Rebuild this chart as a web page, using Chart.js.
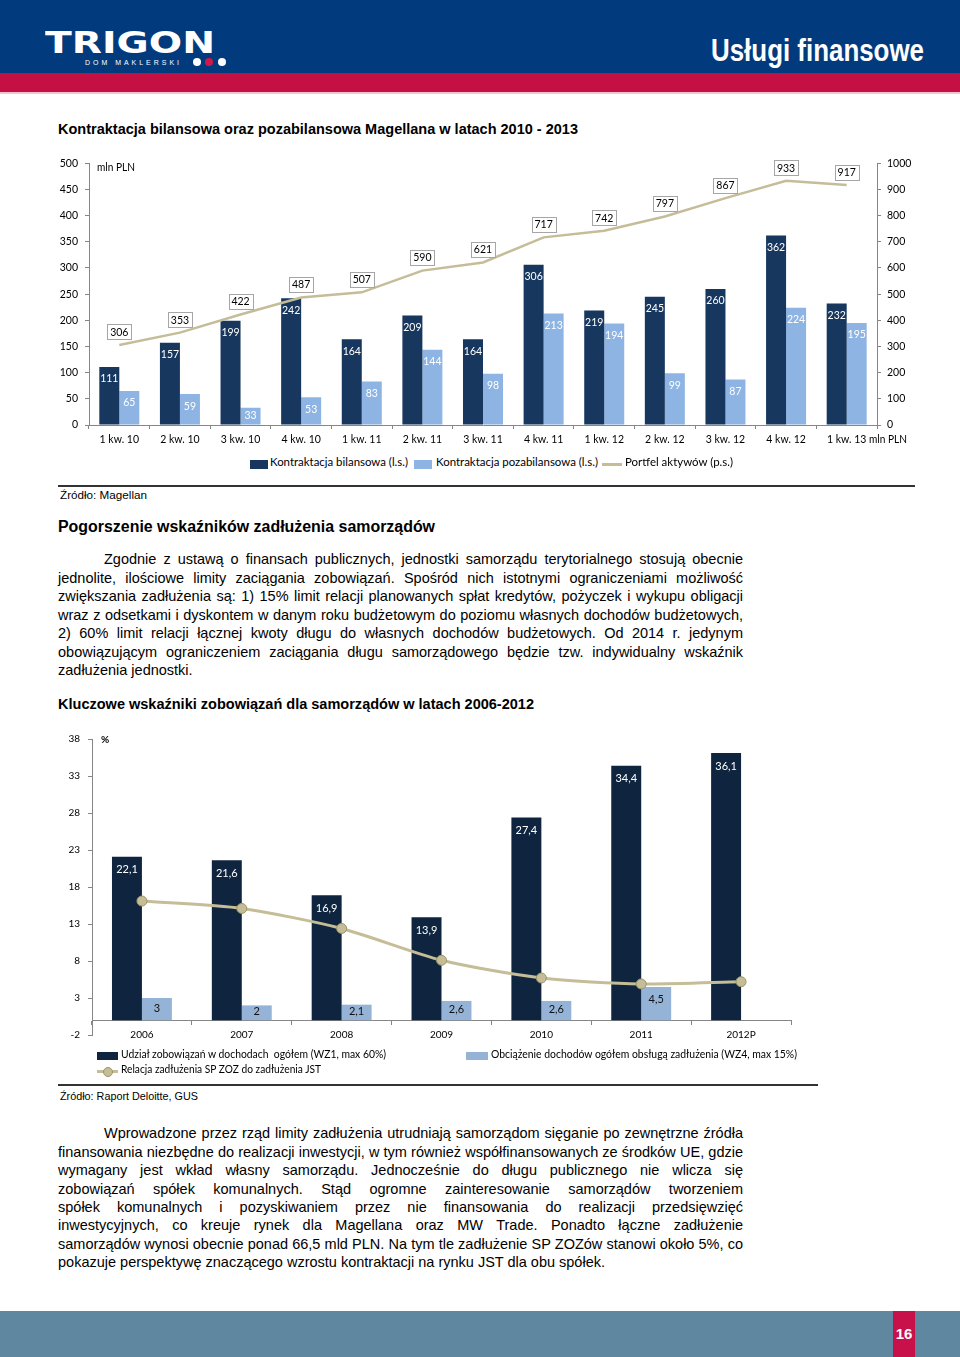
<!DOCTYPE html>
<html lang="pl">
<head>
<meta charset="utf-8">
<script src="https://cdn.jsdelivr.net/npm/chart.js@4.4.0/dist/chart.umd.min.js"></script>
<style>
    body { margin: 0; width: 960px; height: 1357px; position: relative; overflow: hidden; background: #fff;
           font-family: "Liberation Sans", Arial, sans-serif; color: #000; }
    .box { position: absolute; }
    .t { position: absolute; white-space: nowrap; line-height: 1; transform-origin: 0 0; }
    .b { font-weight: bold; }
    .lato { font-family: Lato, "Open Sans", sans-serif; }
    .jl { position: absolute; white-space: nowrap; font-size: 14.5px; line-height: 1; }
    canvas { position: absolute; }
</style>
</head>
<body>

<!-- header -->
<div class="box" style="left:0;top:0;width:960px;height:73px;background:#023b7d"></div>
<div class="box" style="left:0;top:73px;width:960px;height:19px;background:#c41042"></div>
<div class="box" style="left:0;top:92px;width:960px;height:2px;background:#f2c3d1"></div>
<span class="t b" data-w="170" style="left:45px;top:28px;font-size:30px;font-family:'DejaVu Sans';color:#fff">TRIGON</span>
<span class="t" data-w="97" style="left:85px;top:58.6px;font-size:7px;letter-spacing:3px;color:#fff">DOM MAKLERSKI</span>
<div class="box" style="left:193px;top:58px;width:8px;height:8px;border-radius:50%;background:#fff"></div>
<div class="box" style="left:205px;top:58px;width:8px;height:8px;border-radius:50%;background:#d3174a"></div>
<div class="box" style="left:218px;top:58px;width:8px;height:8px;border-radius:50%;background:#fff"></div>
<span class="t b" data-w="213" style="left:711px;top:34px;font-size:32px;color:#fff">Usługi finansowe</span>

<!-- chart 1 -->
<span class="t b" data-w="520" style="left:58px;top:122px;font-size:14px">Kontraktacja bilansowa oraz pozabilansowa Magellana w latach 2010 - 2013</span>
<canvas id="contractChart" width="880" height="300" style="left:50px;top:150px"></canvas>
<span class="t lato" data-w="38" style="left:97px;top:162.3px;font-size:10.5px">mln PLN</span>
<span class="t lato" data-w="38" style="left:869px;top:434.3px;font-size:10.5px">mln PLN</span>

<div class="box" style="left:250px;top:460px;width:18px;height:9px;background:#17375e"></div>
<span class="t lato" data-w="138" style="left:270px;top:457.3px;font-size:10.5px">Kontraktacja bilansowa (l.s.)</span>
<div class="box" style="left:414px;top:460px;width:18px;height:9px;background:#8db4e2"></div>
<span class="t lato" data-w="162" style="left:436px;top:457.3px;font-size:10.5px">Kontraktacja pozabilansowa (l.s.)</span>
<div class="box" style="left:602px;top:463px;width:20px;height:3px;background:#c4bd97"></div>
<span class="t lato" data-w="108" style="left:625px;top:457.3px;font-size:10.5px">Portfel aktywów (p.s.)</span>

<div class="box" style="left:58px;top:485px;width:857px;height:2px;background:#333"></div>
<span class="t" data-w="87" style="left:60px;top:490.3px;font-size:11.5px">Źródło: Magellan</span>

<!-- text 1 -->
<span class="t b" data-w="377" style="left:58px;top:519px;font-size:16px">Pogorszenie wskaźników zadłużenia samorządów</span>
<span class="jl" data-j="639" style="left:104px;top:552.3px">Zgodnie z ustawą o finansach publicznych, jednostki samorządu terytorialnego stosują obecnie</span>
<span class="jl" data-j="685" style="left:58px;top:570.8px">jednolite, ilościowe limity zaciągania zobowiązań. Spośród nich istotnymi ograniczeniami możliwość</span>
<span class="jl" data-j="685" style="left:58px;top:589.3px">zwiększania zadłużenia są: 1) 15% limit relacji planowanych spłat kredytów, pożyczek i wykupu obligacji</span>
<span class="jl" data-j="685" style="left:58px;top:607.8px">wraz z odsetkami i dyskontem w danym roku budżetowym do poziomu własnych dochodów budżetowych,</span>
<span class="jl" data-j="685" style="left:58px;top:626.3px">2) 60% limit relacji łącznej kwoty długu do własnych dochodów budżetowych. Od 2014 r. jedynym</span>
<span class="jl" data-j="685" style="left:58px;top:644.8px">obowiązującym ograniczeniem zaciągania długu samorządowego będzie tzw. indywidualny wskaźnik</span>
<span class="jl" style="left:58px;top:663.3px">zadłużenia jednostki.</span>

<!-- chart 2 -->
<span class="t b" data-w="476" style="left:58px;top:697px;font-size:14px">Kluczowe wskaźniki zobowiązań dla samorządów w latach 2006-2012</span>
<canvas id="debtChart" width="760" height="325" style="left:50px;top:725px"></canvas>
<span class="t lato b" style="left:101px;top:733.7px;font-size:10px">%</span>

<div class="box" style="left:97px;top:1052px;width:21px;height:8px;background:#0f243e"></div>
<span class="t lato" data-w="265" style="left:121px;top:1049.3px;font-size:10.5px">Udział zobowiązań w dochodach&nbsp; ogółem (WZ1, max 60%)</span>
<div class="box" style="left:466px;top:1052px;width:22px;height:8px;background:#95b3d7"></div>
<span class="t lato" data-w="306" style="left:491px;top:1049.3px;font-size:10.5px">Obciążenie dochodów ogółem obsługą zadłużenia (WZ4, max 15%)</span>
<div class="box" style="left:97px;top:1070px;width:21px;height:3px;background:#c4bd97"></div>
<div class="box" style="left:102.5px;top:1066.5px;width:8px;height:8px;border-radius:50%;background:#c4bd97;border:1px solid #9d9568"></div>
<span class="t lato" data-w="200" style="left:121px;top:1064.3px;font-size:10.5px">Relacja zadłużenia SP ZOZ do zadłużenia JST</span>

<div class="box" style="left:58px;top:1084px;width:760px;height:2px;background:#333"></div>
<span class="t" data-w="138" style="left:60px;top:1091.3px;font-size:11.5px">Źródło: Raport Deloitte, GUS</span>

<!-- text 2 -->
<span class="jl" data-j="639" style="left:104px;top:1126.3px">Wprowadzone przez rząd limity zadłużenia utrudniają samorządom sięganie po zewnętrzne źródła</span>
<span class="jl" data-j="685" style="left:58px;top:1144.7px">finansowania niezbędne do realizacji inwestycji, w tym również współfinansowanych ze środków UE, gdzie</span>
<span class="jl" data-j="685" style="left:58px;top:1163.2px">wymagany jest wkład własny samorządu. Jednocześnie do długu publicznego nie wlicza się</span>
<span class="jl" data-j="685" style="left:58px;top:1181.6px">zobowiązań spółek komunalnych. Stąd ogromne zainteresowanie samorządów tworzeniem</span>
<span class="jl" data-j="685" style="left:58px;top:1200px">spółek komunalnych i pozyskiwaniem przez nie finansowania do realizacji przedsięwzięć</span>
<span class="jl" data-j="685" style="left:58px;top:1218.4px">inwestycyjnych, co kreuje rynek dla Magellana oraz MW Trade. Ponadto łączne zadłużenie</span>
<span class="jl" data-j="685" style="left:58px;top:1236.9px">samorządów wynosi obecnie ponad 66,5 mld PLN. Na tym tle zadłużenie SP ZOZów stanowi około 5%, co</span>
<span class="jl" style="left:58px;top:1255.3px">pokazuje perspektywę znaczącego wzrostu kontraktacji na rynku JST dla obu spółek.</span>

<!-- footer -->
<div class="box" style="left:0;top:1311px;width:960px;height:46px;background:#5f87a0"></div>
<div class="box b" style="left:893px;top:1311px;width:22px;height:46px;background:#c8104a;color:#fff;font-size:15px;line-height:46px;text-align:center">16</div>

<script>
// Chart 1 data (mln PLN)
const quarters = ['1 kw. 10', '2 kw. 10', '3 kw. 10', '4 kw. 10', '1 kw. 11', '2 kw. 11', '3 kw. 11',
                  '4 kw. 11', '1 kw. 12', '2 kw. 12', '3 kw. 12', '4 kw. 12', '1 kw. 13'];
const bilansowa = [111, 157, 199, 242, 164, 209, 164, 306, 219, 245, 260, 362, 232];
const pozabilansowa = [65, 59, 33, 53, 83, 144, 98, 213, 194, 99, 87, 224, 195];
const portfel = [306, 353, 422, 487, 507, 590, 621, 717, 742, 797, 867, 933, 917];
const leftTicks = [0, 50, 100, 150, 200, 250, 300, 350, 400, 450, 500];
const rightTicks = [0, 100, 200, 300, 400, 500, 600, 700, 800, 900, 1000];

// Chart 2 data (%)
const years = ['2006', '2007', '2008', '2009', '2010', '2011', '2012P'];
const wz1 = [22.1, 21.6, 16.9, 13.9, 27.4, 34.4, 36.1];
const wz4 = [3, 2, 2.1, 2.6, 2.6, 4.5, null];
const spzoz = [16.1, 15.1, 12.4, 8.1, 5.7, 4.9, 5.2];
const pctTicks = [-2, 3, 8, 13, 18, 23, 28, 33, 38];

const axisGray = '#868686';

// fit html text widths and justify lines
document.querySelectorAll('[data-w]').forEach(el => {
    const natural = el.getBoundingClientRect().width;
    el.style.transform = 'scaleX(' + (+el.dataset.w / natural) + ')';
});
document.querySelectorAll('[data-j]').forEach(el => {
    const natural = el.getBoundingClientRect().width;
    const spaces = (el.textContent.match(/ /g) || []).length;
    el.style.wordSpacing = ((+el.dataset.j - natural) / spaces) + 'px';
});

// draws value labels from dataset.valueLabel settings
const valueLabels = {
    id: 'valueLabels',
    afterDatasetsDraw(chart) {
        const ctx = chart.ctx;
        ctx.save();
        ctx.textAlign = 'center';
        ctx.textBaseline = 'middle';
        chart.data.datasets.forEach((ds, i) => {
            const s = ds.valueLabel;
            if (!s) return;
            const meta = chart.getDatasetMeta(i);
            ctx.font = s.font;
            meta.data.forEach((el, j) => {
                const v = ds.data[j];
                if (v === null || v === undefined) return;
                const text = s.comma ? String(v).replace('.', ',') : String(v);
                if (s.box) {
                    const cy = el.y - s.offset;
                    const w = Math.round(ctx.measureText(text).width + 6);
                    const h = 15;
                    const x0 = Math.round(el.x - w / 2) + 0.5;
                    const y0 = Math.round(cy - h / 2) + 0.5;
                    ctx.fillStyle = '#fff';
                    ctx.fillRect(x0, y0, w, h);
                    ctx.strokeStyle = '#a6a6a6';
                    ctx.lineWidth = 1;
                    ctx.strokeRect(x0, y0, w, h);
                    ctx.fillStyle = s.color;
                    ctx.fillText(text, el.x, cy + 0.5);
                } else {
                    const h = el.base - el.y;
                    const cy = el.y + Math.min(s.offset, Math.max(h / 2 - 1, 6));
                    ctx.fillStyle = s.color;
                    ctx.fillText(text, el.x, cy);
                }
            });
        });
        ctx.restore();
    }
};

const tickFont = { family: 'Lato', size: 10.5 };
const plain = v => String(v);

// Chart 1
new Chart(document.getElementById('contractChart'), {
    type: 'bar',
    data: {
        labels: quarters,
        datasets: [{
            type: 'line',
            label: 'Portfel aktywów (p.s.)',
            data: portfel,
            yAxisID: 'y1',
            borderColor: '#c4bd97',
            borderWidth: 2.5,
            pointRadius: 0,
            tension: 0,
            order: 0,
            valueLabel: { font: '10.5px Lato', color: '#000', box: true, offset: 13 }
        }, {
            label: 'Kontraktacja bilansowa (l.s.)',
            data: bilansowa,
            backgroundColor: '#17375e',
            barPercentage: 1,
            categoryPercentage: 0.66,
            order: 1,
            valueLabel: { font: '10.5px Lato', color: '#fff', offset: 12 }
        }, {
            label: 'Kontraktacja pozabilansowa (l.s.)',
            data: pozabilansowa,
            backgroundColor: '#8db4e2',
            barPercentage: 1,
            categoryPercentage: 0.66,
            order: 1,
            valueLabel: { font: '10.5px Lato', color: '#fff', offset: 12 }
        }]
    },
    options: {
        responsive: false,
        animation: false,
        layout: { padding: { top: 12, left: 0, right: 0, bottom: 0 } },
        plugins: { legend: { display: false }, tooltip: { enabled: false } },
        scales: {
            x: {
                afterFit: s => { s.height = 25; },
                grid: { drawOnChartArea: false, tickLength: 4, color: axisGray },
                border: { color: axisGray },
                ticks: { font: tickFont, color: '#000', padding: 4, maxRotation: 0, autoSkip: false }
            },
            y: {
                position: 'left',
                min: 0,
                max: 500,
                afterBuildTicks: s => { s.ticks = leftTicks.map(v => ({ value: v })); },
                afterFit: s => { s.width = 39; },
                grid: { drawOnChartArea: false, tickLength: 4, color: axisGray },
                border: { color: axisGray },
                ticks: { font: tickFont, color: '#000', padding: 7, callback: plain }
            },
            y1: {
                position: 'right',
                min: 0,
                max: 1000,
                afterBuildTicks: s => { s.ticks = rightTicks.map(v => ({ value: v })); },
                afterFit: s => { s.width = 53; },
                grid: { drawOnChartArea: false, tickLength: 4, color: axisGray },
                border: { color: axisGray },
                ticks: { font: tickFont, color: '#000', padding: 6, callback: plain }
            }
        }
    },
    plugins: [valueLabels]
});

// Chart 2
new Chart(document.getElementById('debtChart'), {
    type: 'bar',
    data: {
        labels: years,
        datasets: [{
            type: 'line',
            label: 'Relacja zadłużenia SP ZOZ do zadłużenia JST',
            data: spzoz,
            borderColor: '#c4bd97',
            borderWidth: 3,
            pointRadius: 5,
            pointBackgroundColor: '#c4bd97',
            pointBorderColor: '#9d9568',
            pointBorderWidth: 1,
            tension: 0.25,
            order: 0
        }, {
            label: 'Udział zobowiązań w dochodach ogółem (WZ1, max 60%)',
            data: wz1,
            backgroundColor: '#0f243e',
            barPercentage: 1,
            categoryPercentage: 0.6,
            order: 1,
            valueLabel: { font: '11px Lato', color: '#fff', offset: 13, comma: true }
        }, {
            label: 'Obciążenie dochodów ogółem obsługą zadłużenia (WZ4, max 15%)',
            data: wz4,
            backgroundColor: '#95b3d7',
            barPercentage: 1,
            categoryPercentage: 0.6,
            order: 1,
            valueLabel: { font: '11px Lato', color: '#111', offset: 13, comma: true }
        }]
    },
    options: {
        responsive: false,
        animation: false,
        layout: { padding: { top: 12, left: 0, right: 19, bottom: 15 } },
        plugins: { legend: { display: false }, tooltip: { enabled: false } },
        scales: {
            x: {
                position: { y: 0 },
                grid: { drawOnChartArea: false, tickLength: 4, color: axisGray },
                border: { color: axisGray },
                ticks: { font: { family: 'Lato', size: 10 }, color: '#000', padding: 5, maxRotation: 0, autoSkip: false }
            },
            y: {
                position: 'left',
                min: -2,
                max: 38,
                afterBuildTicks: s => { s.ticks = pctTicks.map(v => ({ value: v })); },
                afterFit: s => { s.width = 42; },
                grid: { drawOnChartArea: false, tickLength: 4, color: axisGray },
                border: { color: axisGray },
                ticks: { font: { family: 'Lato', size: 10 }, color: '#000', padding: 8, callback: plain }
            }
        }
    },
    plugins: [valueLabels]
});
</script>
</body>
</html>
